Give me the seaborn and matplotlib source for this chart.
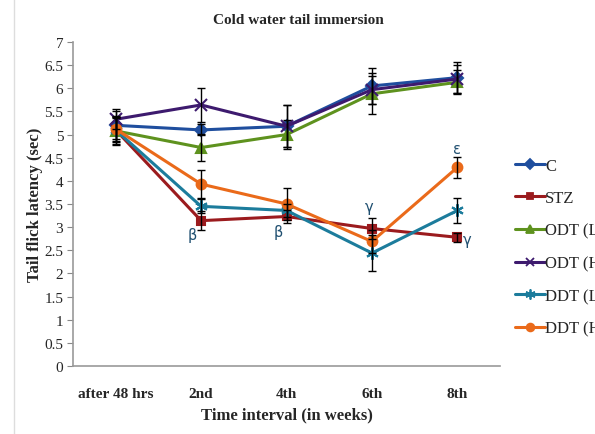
import matplotlib
matplotlib.use("Agg")
import matplotlib.pyplot as plt
import seaborn as sns
import pandas as pd
from matplotlib.lines import Line2D

times = ["after 48 hrs", "2nd", "4th", "6th", "8th"]
groups = ["C", "STZ", "ODT (L)", "ODT (H)", "DDT (L)", "DDT (H)"]

c_vals = [5.20, 5.10, 5.18, 6.05, 6.23]
stz_vals = [5.10, 3.14, 3.23, 2.97, 2.78]
odtl_vals = [5.08, 4.72, 5.00, 5.88, 6.13]
odth_vals = [5.33, 5.64, 5.18, 5.97, 6.20]
ddtl_vals = [5.10, 3.45, 3.36, 2.44, 3.36]
ddth_vals = [5.12, 3.93, 3.50, 2.69, 4.29]

c_err = [0.30, 0.12, 0.45, 0.38, 0.34]
stz_err = [0.30, 0.20, 0.15, 0.22, 0.10]
odtl_err = [0.30, 0.30, 0.31, 0.44, 0.26]
odth_err = [0.22, 0.36, 0.45, 0.30, 0.30]
ddtl_err = [0.25, 0.15, 0.15, 0.38, 0.27]
ddth_err = [0.25, 0.30, 0.35, 0.25, 0.22]

annot_text = ["β", "β", "γ", "γ", "ε"]
annot_time = [1, 2, 3, 4, 4]
annot_value = [2.85, 2.90, 3.45, 2.74, 4.69]

values = [c_vals, stz_vals, odtl_vals, odth_vals, ddtl_vals, ddth_vals]
errors = [c_err, stz_err, odtl_err, odth_err, ddtl_err, ddth_err]
colors = ["#1F4E9E", "#9B1B1E", "#5E921E", "#3D1A6E", "#1C7C9C", "#EA6A1A"]
markers = ["D", "s", "^", "x", (6, 2, 0), "o"]
msizes = [6, 6, 7, 8, 9, 7]
annot_dx = [-0.1, -0.1, -0.03, 0.12, 0.0]

rows = []
for g, vals in zip(groups, values):
    for i, v in enumerate(vals):
        rows.append({"time": i, "group": g, "value": v})
df = pd.DataFrame(rows)

sns.set_style("white")
plt.rcParams["font.family"] = ["Liberation Serif", "DejaVu Serif"]

fig = plt.figure(figsize=(5.95, 4.35), dpi=100)
ax = fig.add_axes([73 / 595, 1 - 367 / 435, 427 / 595, 324 / 435])

for g, vals, errs, col, mk, ms in zip(groups, values, errors, colors, markers, msizes):
    sub = df[df["group"] == g]
    sns.lineplot(data=sub, x="time", y="value", ax=ax, color=col, linewidth=2.2,
                 marker=mk, markersize=ms, markeredgecolor=col, markeredgewidth=1.5,
                 legend=False)
    ax.errorbar(sub["time"], sub["value"], yerr=errs, fmt="none", ecolor="black",
                elinewidth=1.0, capsize=3, capthick=1.0, zorder=5)

for txt, xi, yv, dx in zip(annot_text, annot_time, annot_value, annot_dx):
    ax.text(xi + dx, yv, txt, color="#1F4F70", fontsize=10.5, family="DejaVu Sans",
            ha="center", va="center")

ax.set_xlim(-0.5, 4.5)
ax.set_ylim(0, 7)
ax.set_yticks([i * 0.5 for i in range(15)])
ax.set_yticklabels(["0", "0.5", "1", "1.5", "2", "2.5", "3", "3.5", "4", "4.5", "5",
                    "5.5", "6", "6.5", "7"], fontsize=11)
ax.set_xticks(range(5))
ax.set_xticklabels(times, fontsize=11, fontweight="bold")
ax.tick_params(axis="y", length=4, color="#888888", direction="out", pad=3, left=True)
ax.tick_params(axis="x", length=0, pad=15)
for s in ["top", "right"]:
    ax.spines[s].set_visible(False)
for s in ["left", "bottom"]:
    ax.spines[s].set_color("#999999")
    ax.spines[s].set_linewidth(1.2)

ax.set_xlabel("Time interval (in weeks)", fontsize=12, fontweight="bold", labelpad=5)
ax.set_ylabel("Tail flick latency (sec)", fontsize=12, fontweight="bold", labelpad=1)
fig.text(298 / 595, 1 - 20 / 435, "Cold water tail immersion",
         ha="center", va="center", fontsize=11, fontweight="bold")

handles = [Line2D([0], [0], color=c, lw=2.2, marker=m, markersize=ms * 0.8,
                  markeredgecolor=c, markeredgewidth=1.3)
           for c, m, ms in zip(colors, markers, msizes)]
ax.legend(handles, groups, loc="upper left", bbox_to_anchor=(1.02, 0.664),
          frameon=False, fontsize=12, labelspacing=1.0, handlelength=1.8,
          handletextpad=0.0, borderaxespad=0)

fig.add_artist(Line2D([14 / 595, 14 / 595], [0, 1], color="#DDDDDD", lw=1))

fig.savefig("out.png", dpi=100)
